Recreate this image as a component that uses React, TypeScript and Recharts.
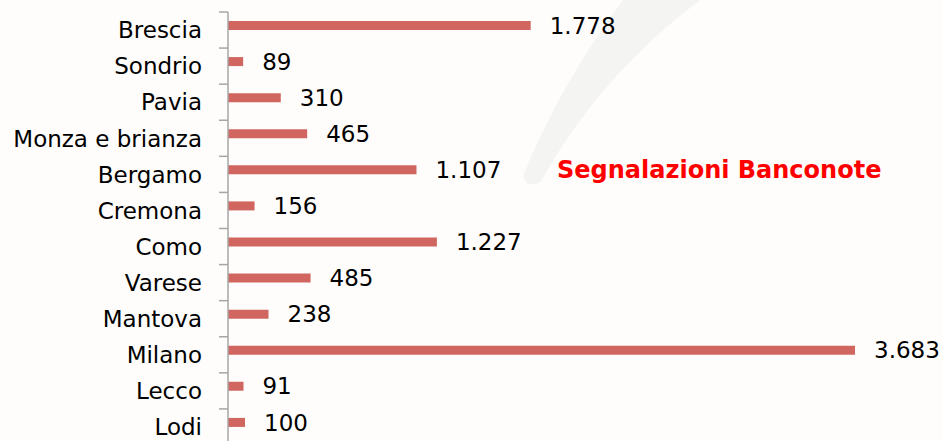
import React from 'react';
import { BarChart, Bar, XAxis, YAxis, LabelList } from 'recharts';

const categories = ['Brescia', 'Sondrio', 'Pavia', 'Monza e brianza', 'Bergamo', 'Cremona', 'Como', 'Varese', 'Mantova', 'Milano', 'Lecco', 'Lodi'];
const values = [1778, 89, 310, 465, 1107, 156, 1227, 485, 238, 3683, 91, 100];
const title = 'Segnalazioni Banconote';

const data = categories.map((name, i) => ({ name, value: values[i], pad: null as number | null }));

const W = 943;
const H = 445;
const MARGIN = { top: 12, right: 34, bottom: 0, left: 0 };
const AXIS_W = 228;
const BAND = (H - MARGIN.top - MARGIN.bottom) / categories.length;
const FONT = '"DejaVu Sans", Verdana, sans-serif';

const fmt = (v: any) => String(v).replace(/\B(?=(\d{3})+(?!\d))/g, '.');

const CatTick = (props: any) => {
  const { y, payload } = props;
  const top = y - BAND / 2;
  return (
    <g>
      <line x1={AXIS_W - 9} x2={AXIS_W} y1={top} y2={top} stroke="#A6A6A6" strokeWidth={1.5} />
      <text x={AXIS_W - 26} y={y} dy="0.36em" textAnchor="end" fontFamily={FONT} fontSize={23} fill="#000">
        {payload.value}
      </text>
    </g>
  );
};

export default function App() {
  return (
    <div style={{ position: 'absolute', left: 0, top: 0, width: W, height: 441, overflow: 'hidden', background: '#FEFDFB' }}>
      <svg width={W} height={441} style={{ position: 'absolute', left: 0, top: 0 }}>
        <path d="M 623 0 Q 560 85 523 176 Q 527 190 541 181 Q 600 75 700 0 Z" fill="#F4F4F3" />
      </svg>
      <div style={{ position: 'absolute', left: 0, top: 0 }}>
        <BarChart width={W} height={H} data={data} layout="vertical" margin={MARGIN} barSize={9} barGap={1}>
          <XAxis type="number" domain={[0, 4000]} hide />
          <YAxis
            type="category"
            dataKey="name"
            width={AXIS_W}
            interval={0}
            tickLine={false}
            axisLine={{ stroke: '#A6A6A6', strokeWidth: 1.5 }}
            tick={<CatTick />}
          />
          <Bar dataKey="value" fill="#D0665F" isAnimationActive={false}>
            <LabelList dataKey="value" position="right" offset={19} formatter={fmt} fill="#000" fontSize={23} fontFamily={FONT} />
          </Bar>
          <Bar dataKey="pad" fill="#D0665F" isAnimationActive={false} />
        </BarChart>
      </div>
      <div style={{ position: 'absolute', left: 557, top: 156, fontFamily: FONT, fontWeight: 'bold', fontSize: 24, lineHeight: '28px', color: '#FF0000', whiteSpace: 'nowrap' }}>
        {title}
      </div>
    </div>
  );
}
